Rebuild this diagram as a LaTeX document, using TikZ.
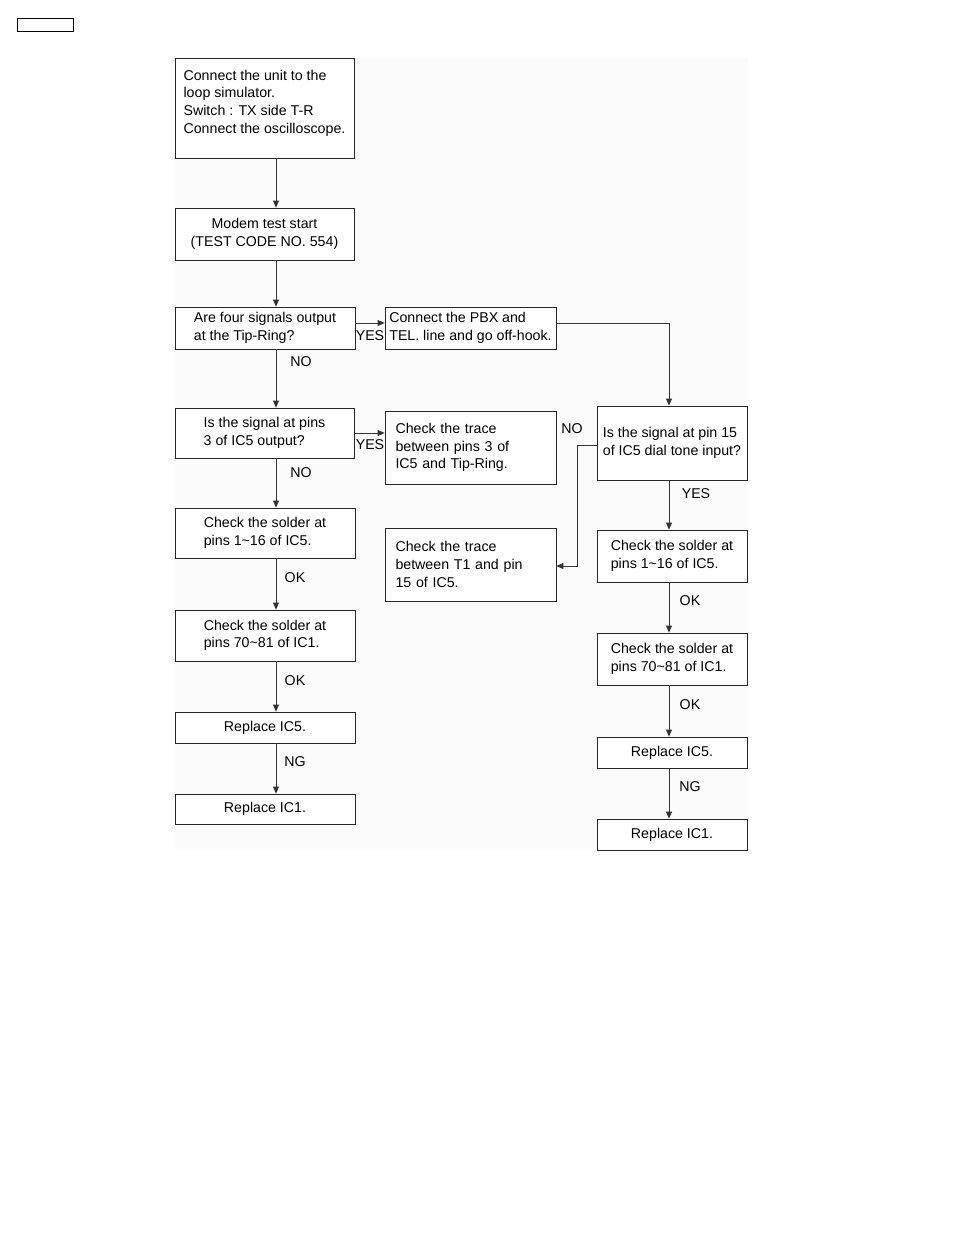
\documentclass[tikz,border=0pt]{standalone}
\usepackage{fontspec}
\setmainfont{Liberation Sans}
\usepackage{tikz}
\usetikzlibrary{arrows.meta,positioning}
\newcommand{\boxfont}{\fontsize{14.2}{17.6}\selectfont}

\begin{document}
\begin{tikzpicture}[
x=1pt, y=-1pt,
font=\boxfont,
stepbox/.style={draw=black!85, line width=0.8pt, fill=white, align=left, inner sep=0pt},
lbox/.style={stepbox, minimum width=180pt},
mbox/.style={stepbox, minimum width=171pt},
rbox/.style={stepbox, minimum width=150pt},
tag/.style={inner sep=0pt},
flow/.style={draw=black!80, line width=0.8pt, -{Triangle[length=7pt,width=6pt]}}
]
    \useasboundingbox (0,0) rectangle (954,1235);
    % Background
    \fill [black!1.5] (175,58) rectangle (748,850);
    \node[draw, line width=0.8pt, minimum width=56pt, minimum height=13pt, inner sep=0pt] (tab) at (45,24.5) {};

    \coordinate (lcol) at (276,0);
    \coordinate (rcol) at (669,0);
    \coordinate (jog) at (577,0);

    % Left column
    \node[lbox, minimum width=179pt, minimum height=100pt, text depth=13pt] (setup) at (264.5,108)
        {Connect the unit to the\\loop simulator.\\Switch : TX side T-R\\Connect the oscilloscope.};
    \node[lbox, minimum width=179pt, minimum height=52pt, align=center] (modem) at (264.5,234)
        {Modem test start\\(TEST CODE NO. 554)};
    \node[lbox, minimum height=42pt] (four) at (265,328)
        {Are four signals output\\at the Tip-Ring?};
    \node[lbox, minimum width=179pt, minimum height=50pt] (pinsthree) at (264.5,433)
        {Is the signal at pins\\3 of IC5 output?};
    \node[lbox, minimum height=50pt] (solderA) at (265,533)
        {Check the solder at\\pins 1\textasciitilde16 of IC5.};
    \node[lbox, minimum height=51pt] (solderB) at (265,635.5)
        {Check the solder at\\pins 70\textasciitilde81 of IC1.};
    \node[lbox, minimum height=31pt] (replaceA) at (265,727.5) {Replace IC5.};
    \node[lbox, minimum height=30pt] (replaceB) at (265,809) {Replace IC1.};

    % Middle column
    \node[mbox, minimum height=42pt] (pbx) at (470.5,328)
        {Connect the PBX and\\TEL. line and go off-hook.};
    \node[mbox, minimum height=73pt, text width=150pt] (traceA) at (470.5,447.5)
        {Check the trace\\between pins 3 of\\IC5 and Tip-Ring.};
    \node[mbox, minimum height=73pt, text width=150pt] (traceB) at (470.5,564.5)
        {Check the trace\\between T1 and pin\\15 of IC5.};

    % Right column
    \node[rbox, minimum height=74pt] (dial) at (672,443)
        {Is the signal at pin 15\\of IC5 dial tone input?};
    \node[rbox, minimum height=52pt] (solderC) at (672,556)
        {Check the solder at\\pins 1\textasciitilde16 of IC5.};
    \node[rbox, minimum height=52pt] (solderD) at (672,659)
        {Check the solder at\\pins 70\textasciitilde81 of IC1.};
    \node[rbox, minimum height=31pt] (replaceC) at (672,752.5) {Replace IC5.};
    \node[rbox, minimum height=31pt] (replaceD) at (672,834.5) {Replace IC1.};

    % Connectors
    \draw[flow] (setup.south -| lcol) -- (modem.north -| lcol);
    \draw[flow] (modem.south -| lcol) -- (four.north -| lcol);
    \draw[flow] ([yshift=5pt]four.east) -- ([yshift=5pt]pbx.west);
    \draw[flow] (four.south -| lcol) -- (pinsthree.north -| lcol);
    \draw[flow] ([yshift=5pt]pbx.east) -| (dial.north -| rcol);
    \draw[flow] (pinsthree.east) -- (traceA.west |- pinsthree.east);
    \draw[flow] (pinsthree.south -| lcol) -- (solderA.north -| lcol);
    \draw[flow] ([yshift=-2pt]dial.west) -- ([yshift=-2pt]dial.west -| jog) |- ([yshift=-1.5pt]traceB.east);
    \draw[flow] (dial.south -| rcol) -- (solderC.north -| rcol);
    \draw[flow] (solderA.south -| lcol) -- (solderB.north -| lcol);
    \draw[flow] (solderB.south -| lcol) -- (replaceA.north -| lcol);
    \draw[flow] (replaceA.south -| lcol) -- (replaceB.north -| lcol);
    \draw[flow] (solderC.south -| rcol) -- (solderD.north -| rcol);
    \draw[flow] (solderD.south -| rcol) -- (replaceC.north -| rcol);
    \draw[flow] (replaceC.south -| rcol) -- (replaceD.north -| rcol);

    % Labels
    \node[tag] (yesA) at (370,336) {YES};
    \node[tag] (noA) at (301,362) {NO};
    \node[tag] (yesB) at (370,445) {YES};
    \node[tag] (noB) at (301,473) {NO};
    \node[tag] (noC) at (572,429) {NO};
    \node[tag] (yesC) at (696,494) {YES};
    \node[tag] (okA) at (295,578) {OK};
    \node[tag] (okB) at (295,681) {OK};
    \node[tag] (ngA) at (295,762) {NG};
    \node[tag] (okC) at (690,601) {OK};
    \node[tag] (okD) at (690,705) {OK};
    \node[tag] (ngB) at (690,787) {NG};
\end{tikzpicture}
\end{document}
